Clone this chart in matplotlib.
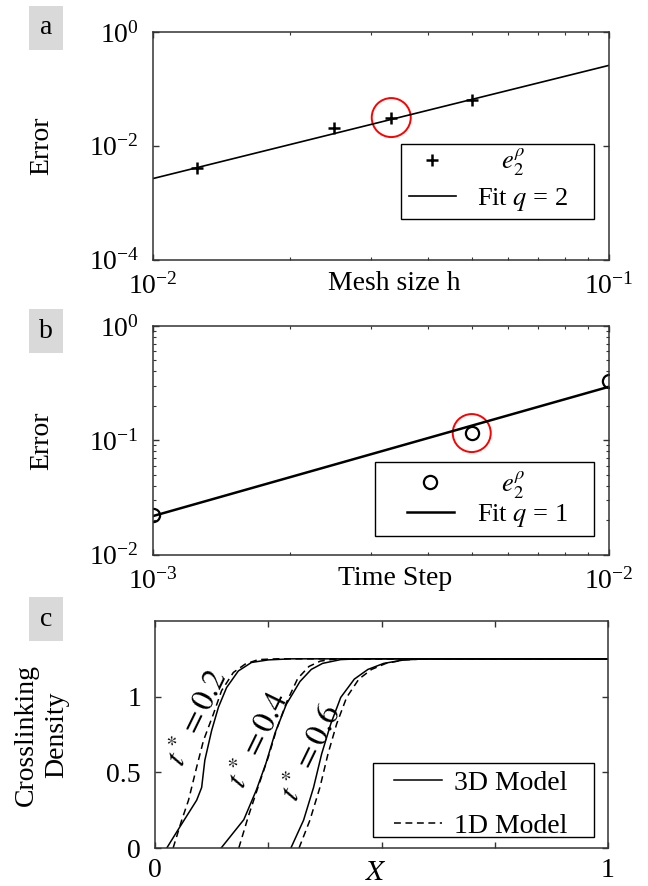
"""Convergence of e2 error (mesh size, time step) and crosslinking density profiles."""

import matplotlib
matplotlib.use("Agg")
import matplotlib.pyplot as plt
from matplotlib.patches import Ellipse, Rectangle
from matplotlib.transforms import ScaledTranslation
from matplotlib.ticker import LogLocator, NullLocator, NullFormatter, FixedLocator, LogFormatterMathtext

plt.rcParams["font.family"] = ["Liberation Serif", "DejaVu Serif"]
plt.rcParams["mathtext.fontset"] = "stix"

# --- panel a: error vs mesh size
mesh_h = [0.0125, 0.025, 0.0333, 0.05]
mesh_err = [0.0040, 0.0206, 0.0313, 0.063]
mesh_fit_h = [0.01, 0.1]
mesh_fit_err = [0.00265, 0.259]
mesh_circled = 2  # index of the highlighted point

# --- panel b: error vs time step
dt = [0.001, 0.005, 0.01]
dt_err = [0.0221, 0.1156, 0.33]
dt_fit = [0.001, 0.01]
dt_fit_err = [0.0217, 0.294]
dt_circled = 1

# --- panel c: crosslinking density profiles (3D solid, 1D dashed)
x3d_t02 = [0.026, 0.055, 0.092, 0.103, 0.110, 0.125, 0.140, 0.158, 0.184, 0.213, 0.25, 0.30, 1.0]
rho3d_t02 = [0, 0.14, 0.316, 0.40, 0.58, 0.776, 0.93, 1.06, 1.17, 1.226, 1.243, 1.25, 1.25]
x1d_t02 = [0.040, 0.059, 0.074, 0.092, 0.107, 0.129, 0.147, 0.173, 0.199, 0.228, 0.27, 1.0]
rho1d_t02 = [0, 0.184, 0.316, 0.535, 0.71, 0.886, 1.04, 1.16, 1.215, 1.245, 1.25, 1.25]

x3d_t04 = [0.146, 0.196, 0.224, 0.245, 0.265, 0.290, 0.320, 0.345, 0.370, 0.41, 0.45, 1.0]
rho3d_t04 = [0, 0.187, 0.385, 0.56, 0.76, 0.95, 1.10, 1.18, 1.22, 1.245, 1.25, 1.25]
x1d_t04 = [0.185, 0.206, 0.228, 0.250, 0.268, 0.290, 0.315, 0.340, 0.365, 0.40, 0.44, 1.0]
rho1d_t04 = [0, 0.209, 0.407, 0.60, 0.78, 0.96, 1.12, 1.20, 1.235, 1.25, 1.25, 1.25]

x3d_t06 = [0.300, 0.328, 0.350, 0.368, 0.388, 0.410, 0.440, 0.470, 0.505, 0.55, 0.60, 1.0]
rho3d_t06 = [0, 0.184, 0.40, 0.623, 0.82, 0.995, 1.116, 1.18, 1.22, 1.243, 1.25, 1.25]
x1d_t06 = [0.318, 0.342, 0.364, 0.382, 0.401, 0.423, 0.450, 0.478, 0.51, 0.55, 0.60, 1.0]
rho1d_t06 = [0, 0.184, 0.40, 0.623, 0.82, 0.995, 1.116, 1.18, 1.22, 1.243, 1.25, 1.25]

t_labels = [r"$t^* = 0.2$", r"$t^* = 0.4$", r"$t^* = 0.6$"]
t_label_pos = [(0.096, 0.86), (0.230, 0.71), (0.348, 0.624)]

W, H = 648, 886
fig = plt.figure(figsize=(W / 100, H / 100), dpi=100)
AX_COLOR = "#333333"


def add_axes_px(left, top, right, bottom):
    return fig.add_axes([left / W, 1 - bottom / H, (right - left) / W, (bottom - top) / H])


def style(ax):
    for s in ax.spines.values():
        s.set_color(AX_COLOR)
        s.set_linewidth(1.1)
    ax.tick_params(which="both", direction="in", top=True, right=True, color=AX_COLOR, labelsize=20, pad=10)
    ax.tick_params(which="major", length=4, width=1)
    ax.tick_params(which="minor", length=2.5, width=0.8)


def circle(ax, x, y, d=0.39):
    tr = fig.dpi_scale_trans + ScaledTranslation(x, y, ax.transData)
    ax.add_artist(Ellipse((0, 0), d, d, transform=tr, fill=False, edgecolor="red", lw=1.4, clip_on=False))


def panel_tag(letter, top):
    fig.add_artist(Rectangle((29 / W, 1 - (top + 44) / H), 34 / W, 44 / H, transform=fig.transFigure,
                             facecolor="#d9d9d9", edgecolor="none"))
    fig.text(46 / W, 1 - (top + 22) / H, letter, ha="center", va="center", fontsize=20)


def legend_px(frame, handle_x, rows_mid, size, hlen, tpad, spacing):
    """Frameless legend anchored at pixel positions plus a drawn frame box (pixels)."""
    l, t, r, b = frame
    fig.add_artist(Rectangle((l / W, 1 - b / H), (r - l) / W, (b - t) / H, transform=fig.transFigure,
                             facecolor="white", edgecolor="black", lw=1.0, zorder=4))
    leg = fig.legend(*fig.axes[-1].get_legend_handles_labels(), loc="center left",
                     bbox_to_anchor=(handle_x / W, 1 - rows_mid / H), frameon=False, fontsize=size,
                     borderpad=0, borderaxespad=0, handlelength=hlen, handletextpad=tpad,
                     labelspacing=spacing)
    leg.set_zorder(5)
    return leg


# ---- a
ax_a = add_axes_px(153, 32, 609, 259.5)
ax_a.plot(mesh_h, mesh_err, "+", color="black", ms=9, mew=1.8, label=r"$\quad\;e_2^{\rho}$")
ax_a.plot(mesh_fit_h, mesh_fit_err, "-", color="black", lw=1.2, label=r"Fit $q$ = 2")
ax_a.set_xscale("log")
ax_a.set_yscale("log")
ax_a.set_xlim(1e-2, 1e-1)
ax_a.set_ylim(1e-4, 1e0)
ax_a.yaxis.set_major_locator(FixedLocator([1e-4, 1e-2, 1e0]))
ax_a.yaxis.set_major_formatter(LogFormatterMathtext())
ax_a.yaxis.set_minor_locator(NullLocator())
ax_a.xaxis.set_minor_locator(LogLocator(base=10, subs=range(2, 10)))
ax_a.xaxis.set_minor_formatter(NullFormatter())
style(ax_a)
circle(ax_a, mesh_h[mesh_circled], mesh_err[mesh_circled])
legend_px((401, 144, 594, 219), 409, 180, 19, 1.78, 0.8, 0.3)
ax_a.set_xlabel("Mesh size h", fontsize=20)
ax_a.xaxis.set_label_coords(0.53, -0.05)
ax_a.text(-0.243, 0.5, "Error", rotation=90, ha="center", va="center", fontsize=20, transform=ax_a.transAxes)
panel_tag("a", 6)

# ---- b
ax_b = add_axes_px(153, 326, 609, 554.5)
ax_b.plot(dt, dt_err, "o", color="black", mfc="none", ms=9.5, mew=1.6, label=r"$\quad\;e_2^{\rho}$")
ax_b.plot(dt_fit, dt_fit_err, "-", color="black", lw=1.8, label=r"Fit $q$ = 1")
ax_b.set_xscale("log")
ax_b.set_yscale("log")
ax_b.set_xlim(1e-3, 1e-2)
ax_b.set_ylim(1e-2, 1e0)
ax_b.xaxis.set_minor_locator(LogLocator(base=10, subs=range(2, 10)))
ax_b.yaxis.set_minor_locator(LogLocator(base=10, subs=range(2, 10)))
ax_b.xaxis.set_minor_formatter(NullFormatter())
ax_b.yaxis.set_minor_formatter(NullFormatter())
style(ax_b)
circle(ax_b, dt[dt_circled], dt_err[dt_circled], d=0.38)
legend_px((375, 462, 594, 536), 407, 499, 19, 1.78, 0.87, 0.05)
ax_b.set_xlabel("Time Step", fontsize=20)
ax_b.xaxis.set_label_coords(0.53, -0.05)
ax_b.text(-0.243, 0.5, "Error", rotation=90, ha="center", va="center", fontsize=20, transform=ax_b.transAxes)
panel_tag("b", 309)

# ---- c
ax_c = add_axes_px(155, 621, 608, 848)
dash = (0, (4.5, 3))
curves = [(x3d_t02, rho3d_t02, x1d_t02, rho1d_t02),
          (x3d_t04, rho3d_t04, x1d_t04, rho1d_t04),
          (x3d_t06, rho3d_t06, x1d_t06, rho1d_t06)]
for i, (xs, ys, xd, yd) in enumerate(curves):
    ax_c.plot(xs, ys, "-", color="black", lw=1.1, label="3D Model" if i == 0 else None)
    ax_c.plot(xd, yd, linestyle=dash, color="black", lw=1.1, label="1D Model" if i == 0 else None)
for txt, (tx, ty) in zip(t_labels, t_label_pos):
    ax_c.text(tx, ty, txt, rotation=64, ha="center", va="center", fontsize=23)
ax_c.set_xlim(0, 1)
ax_c.set_ylim(0, 1.5)
ax_c.set_xticks([0, 0.25, 0.5, 0.75, 1])
ax_c.set_xticklabels(["0", "", "", "", "1"])
ax_c.set_yticks([0, 0.5, 1])
ax_c.set_yticklabels(["0", "0.5", "1"])
style(ax_c)
ax_c.tick_params(axis="x", pad=7)
legend_px((373, 763, 594, 837), 394, 804.5, 20, 1.73, 0.43, 0.63)
ax_c.text(0.487, -0.108, "$X$", ha="center", va="center", fontsize=21, transform=ax_c.transAxes)
ax_c.text(-0.283, 0.5, "Crosslinking", rotation=90, ha="center", va="center", fontsize=20,
          transform=ax_c.transAxes)
ax_c.text(-0.218, 0.5, "Density", rotation=90, ha="center", va="center", fontsize=20,
          transform=ax_c.transAxes)
panel_tag("c", 597)

fig.savefig("out.png", dpi=100)
plt.close(fig)
